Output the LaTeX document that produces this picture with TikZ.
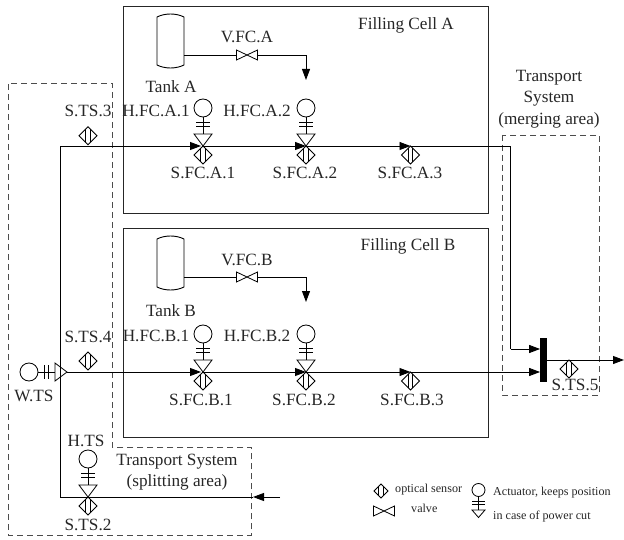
\documentclass[tikz,border=0pt]{standalone}
\usepackage{fontspec}
\setmainfont{Liberation Serif}
\usetikzlibrary{arrows.meta,calc}
\tikzset{
  lab/.style={inner sep=0pt,font=\fontsize{17.2}{19}\selectfont,align=center,text=black!85},
  small/.style={inner sep=0pt,font=\fontsize{12.1}{14}\selectfont,align=left,text=black!85},
  sym/.style={line width=0.8pt,black},
  pipe/.style={line width=0.9pt,black},
  flow/.style={pipe,-{Triangle[length=11pt,width=8pt]}},
  cellbox/.style={draw,line width=1pt,black!85},
  area/.style={draw,line width=0.9pt,black!70,dash pattern=on 6pt off 4pt},
}
\newcommand{\sensorsym}[2][9]{%
  \draw[sym] ($(#2)$) -- ++(#1,#1) -- ++(-#1,#1) -- ++(-#1,-#1) -- cycle;
  \draw[sym] ($(#2)+(-2.3,2.3)$) -- ++(0,{2*#1-4.6});
  \draw[sym] ($(#2)+(2.3,2.3)$) -- ++(0,{2*#1-4.6});
}
\newcommand{\actuatorsym}[2]{%
  \node[draw,sym,circle,minimum size=18pt,inner sep=0pt] (#2) at ($(#1)+(0,-38)$) {};
  \draw[sym] (#2.south) -- ($(#1)+(0,-12)$);
  \draw[sym] ($(#1)+(-7,-23.5)$) -- ++(14,0);
  \draw[sym] ($(#1)+(-7,-19.5)$) -- ++(14,0);
  \draw[sym] (#1) -- ++(-9,-12) -- ++(18,0) -- cycle;
}
\newcommand{\valvesym}[3]{%
  \coordinate (#2) at ($(#1)+(-10.5,0)$);
  \coordinate (#3) at ($(#1)+(10.5,0)$);
  \draw[sym,fill=white] ($(#1)+(-10.5,-5)$) -- ($(#1)+(10.5,5)$) -- ($(#1)+(10.5,-5)$) -- ($(#1)+(-10.5,5)$) -- cycle;
}
\newcommand{\tanksym}[2]{%
  \draw[sym,line width=0.9pt] ($(#2)+(0,4)$) .. controls ($(#2)+(8,0)$) and ($(#2)+(19,0)$) .. ($(#2)+(27,4)$)
    -- ($(#2)+(27,52)$) .. controls ($(#2)+(19,56)$) and ($(#2)+(8,56)$) .. ($(#2)+(0,52)$) -- cycle;
  \coordinate (#1) at ($(#2)+(27,42)$);
}
\begin{document}
\begin{tikzpicture}[x=1pt,y=-1pt]
\useasboundingbox (0,0) rectangle (624,540);
\draw[cellbox] (123.3,7) rectangle (488.7,214);
\draw[cellbox] (123.3,229) rectangle (488.7,437);
\draw[area] (112,447.7) -- (112,83) -- (8,83) -- (8,535) -- (251.7,535) -- (251.7,447.7) -- cycle;
\draw[area] (502,135) rectangle (599,395);
\coordinate (sts3) at (88,126.7);
\coordinate (a1) at (203,146);
\coordinate (a2) at (306,146);
\coordinate (a3) at (410.5,146);
\coordinate (sts4) at (88,352);
\coordinate (b1) at (203,372);
\coordinate (b2) at (306,372);
\coordinate (b3) at (410.5,372);
\coordinate (sts5) at (569,360);
\coordinate (sts2) at (88,497);
\coordinate (cornerA) at (60,146);
\coordinate (cornerS) at (60,497);
\coordinate (cornerM) at (510.7,146);
\coordinate (inM) at (510.7,349);
\coordinate (feed) at (280,497);
\coordinate (feedtip) at (253,497);
\coordinate (out) at (624,360);
\node[fill=black,minimum width=6.8pt,minimum height=44pt,inner sep=0pt] (bar) at (543.7,360) {};
\draw[pipe] (sts2) -- (cornerS) -- (cornerA);
\draw[flow,shorten >=2pt] (cornerA) -- (a1);
\draw[flow] (a1) -- (a2);
\draw[flow] (a2) -- (a3);
\draw[pipe] (a3) -- (cornerM) -- (inM);
\draw[flow] (inM) -- (bar.west |- inM);
\draw[pipe] (feedtip) -- (sts2);
\draw[flow] (feed) -- (feedtip);
\draw[flow] (bar.east |- out) -- (out);
\node[draw,sym,circle,minimum size=18pt,inner sep=0pt] (wc) at (29,372) {};
\coordinate (wtip) at (67,372);
\draw[sym] (wc.east) -- (55,372);
\draw[sym] (44,365) -- (44,379);
\draw[sym] (48,365) -- (48,379);
\draw[sym] (wtip) -- (55,363) -- (55,381) -- cycle;
\draw[flow,shorten >=2pt] (wtip) -- (b1);
\draw[flow] (b1) -- (b2);
\draw[flow] (b2) -- (b3);
\draw[flow] (b3) -- (bar.west |- b3);
\sensorsym{sts3}\sensorsym{a1}\sensorsym{a2}\sensorsym{a3}
\sensorsym{sts4}\sensorsym{b1}\sensorsym{b2}\sensorsym{b3}
\sensorsym{sts5}\sensorsym{sts2}
\actuatorsym{a1}{ha1}\actuatorsym{a2}{ha2}\actuatorsym{b1}{hb1}\actuatorsym{b2}{hb2}\actuatorsym{sts2}{hts}
\tanksym{ta}{157,13}
\tanksym{tb}{157,235}
\coordinate (vac) at (247,55);
\coordinate (vbc) at (247,277);
\valvesym{vac}{vaw}{vae}
\valvesym{vbc}{vbw}{vbe}
\coordinate (dropA) at (306,55);
\coordinate (dropB) at (306,277);
\coordinate (tipA) at (306,80);
\coordinate (tipB) at (306,302);
\draw[pipe] (ta) -- (vaw);
\draw[pipe] (tb) -- (vbw);
\draw[flow] (vae) -- (dropA) -- (tipA);
\draw[flow] (vbe) -- (dropB) -- (tipB);
\node[lab] (lfa) at (406,25) {Filling Cell A};
\node[lab] (lfb) at (408,246) {Filling Cell B};
\node[lab] (lva) at (247,37) {V.FC.A};
\node[lab] (lvb) at (247,260) {V.FC.B};
\node[lab] (lta) at (171,87) {Tank A};
\node[lab] (ltb) at (171,311) {Tank B};
\node[lab] (lha1) at (156,111) {H.FC.A.1};
\node[lab] (lha2) at (257,111) {H.FC.A.2};
\node[lab] (lhb1) at (156,336) {H.FC.B.1};
\node[lab] (lhb2) at (257,336) {H.FC.B.2};
\node[lab] (lsts3) at (88,111) {S.TS.3};
\node[lab] (lsts4) at (88,337) {S.TS.4};
\node[lab] (lsa1) at (203,173) {S.FC.A.1};
\node[lab] (lsa2) at (305,173) {S.FC.A.2};
\node[lab] (lsa3) at (410,173) {S.FC.A.3};
\node[lab] (lsb1) at (201,400) {S.FC.B.1};
\node[lab] (lsb2) at (304,400) {S.FC.B.2};
\node[lab] (lsb3) at (412,400) {S.FC.B.3};
\node[lab] (lw) at (34,396) {W.TS};
\node[lab] (lhts) at (86,441) {H.TS};
\node[lab] (lsts2) at (88,525) {S.TS.2};
\node[lab] (lsts5) at (575,385) {S.TS.5};
\node[lab] (lms) at (549,99) {Transport\\[2.5pt]System\\[2.5pt](merging area)};
\node[lab] (lss) at (177,472.5) {Transport System\\[2pt](splitting area)};
\coordinate (lgs) at (381,484);
\sensorsym[7]{lgs}
\coordinate (lgv) at (384,511);
\valvesym{lgv}{lgvw}{lgve}
\node[draw,sym,circle,minimum size=13pt,inner sep=0pt] (lgc) at (478.5,490) {};
\draw[sym] (lgc.south) -- (478.5,510);
\draw[sym] (472,501) -- (485,501);
\draw[sym] (472,504) -- (485,504);
\draw[sym] (478.5,517.5) -- (472,510) -- (485,510) -- cycle;
\node[small,anchor=west] (lg1) at (395,490) {optical sensor};
\node[small,anchor=west] (lg2) at (411,508) {valve};
\node[small,anchor=west] (lg3) at (493,493) {Actuator, keeps position};
\node[small,anchor=west] (lg4) at (493,516.5) {in case of power cut};
\end{tikzpicture}
\end{document}
